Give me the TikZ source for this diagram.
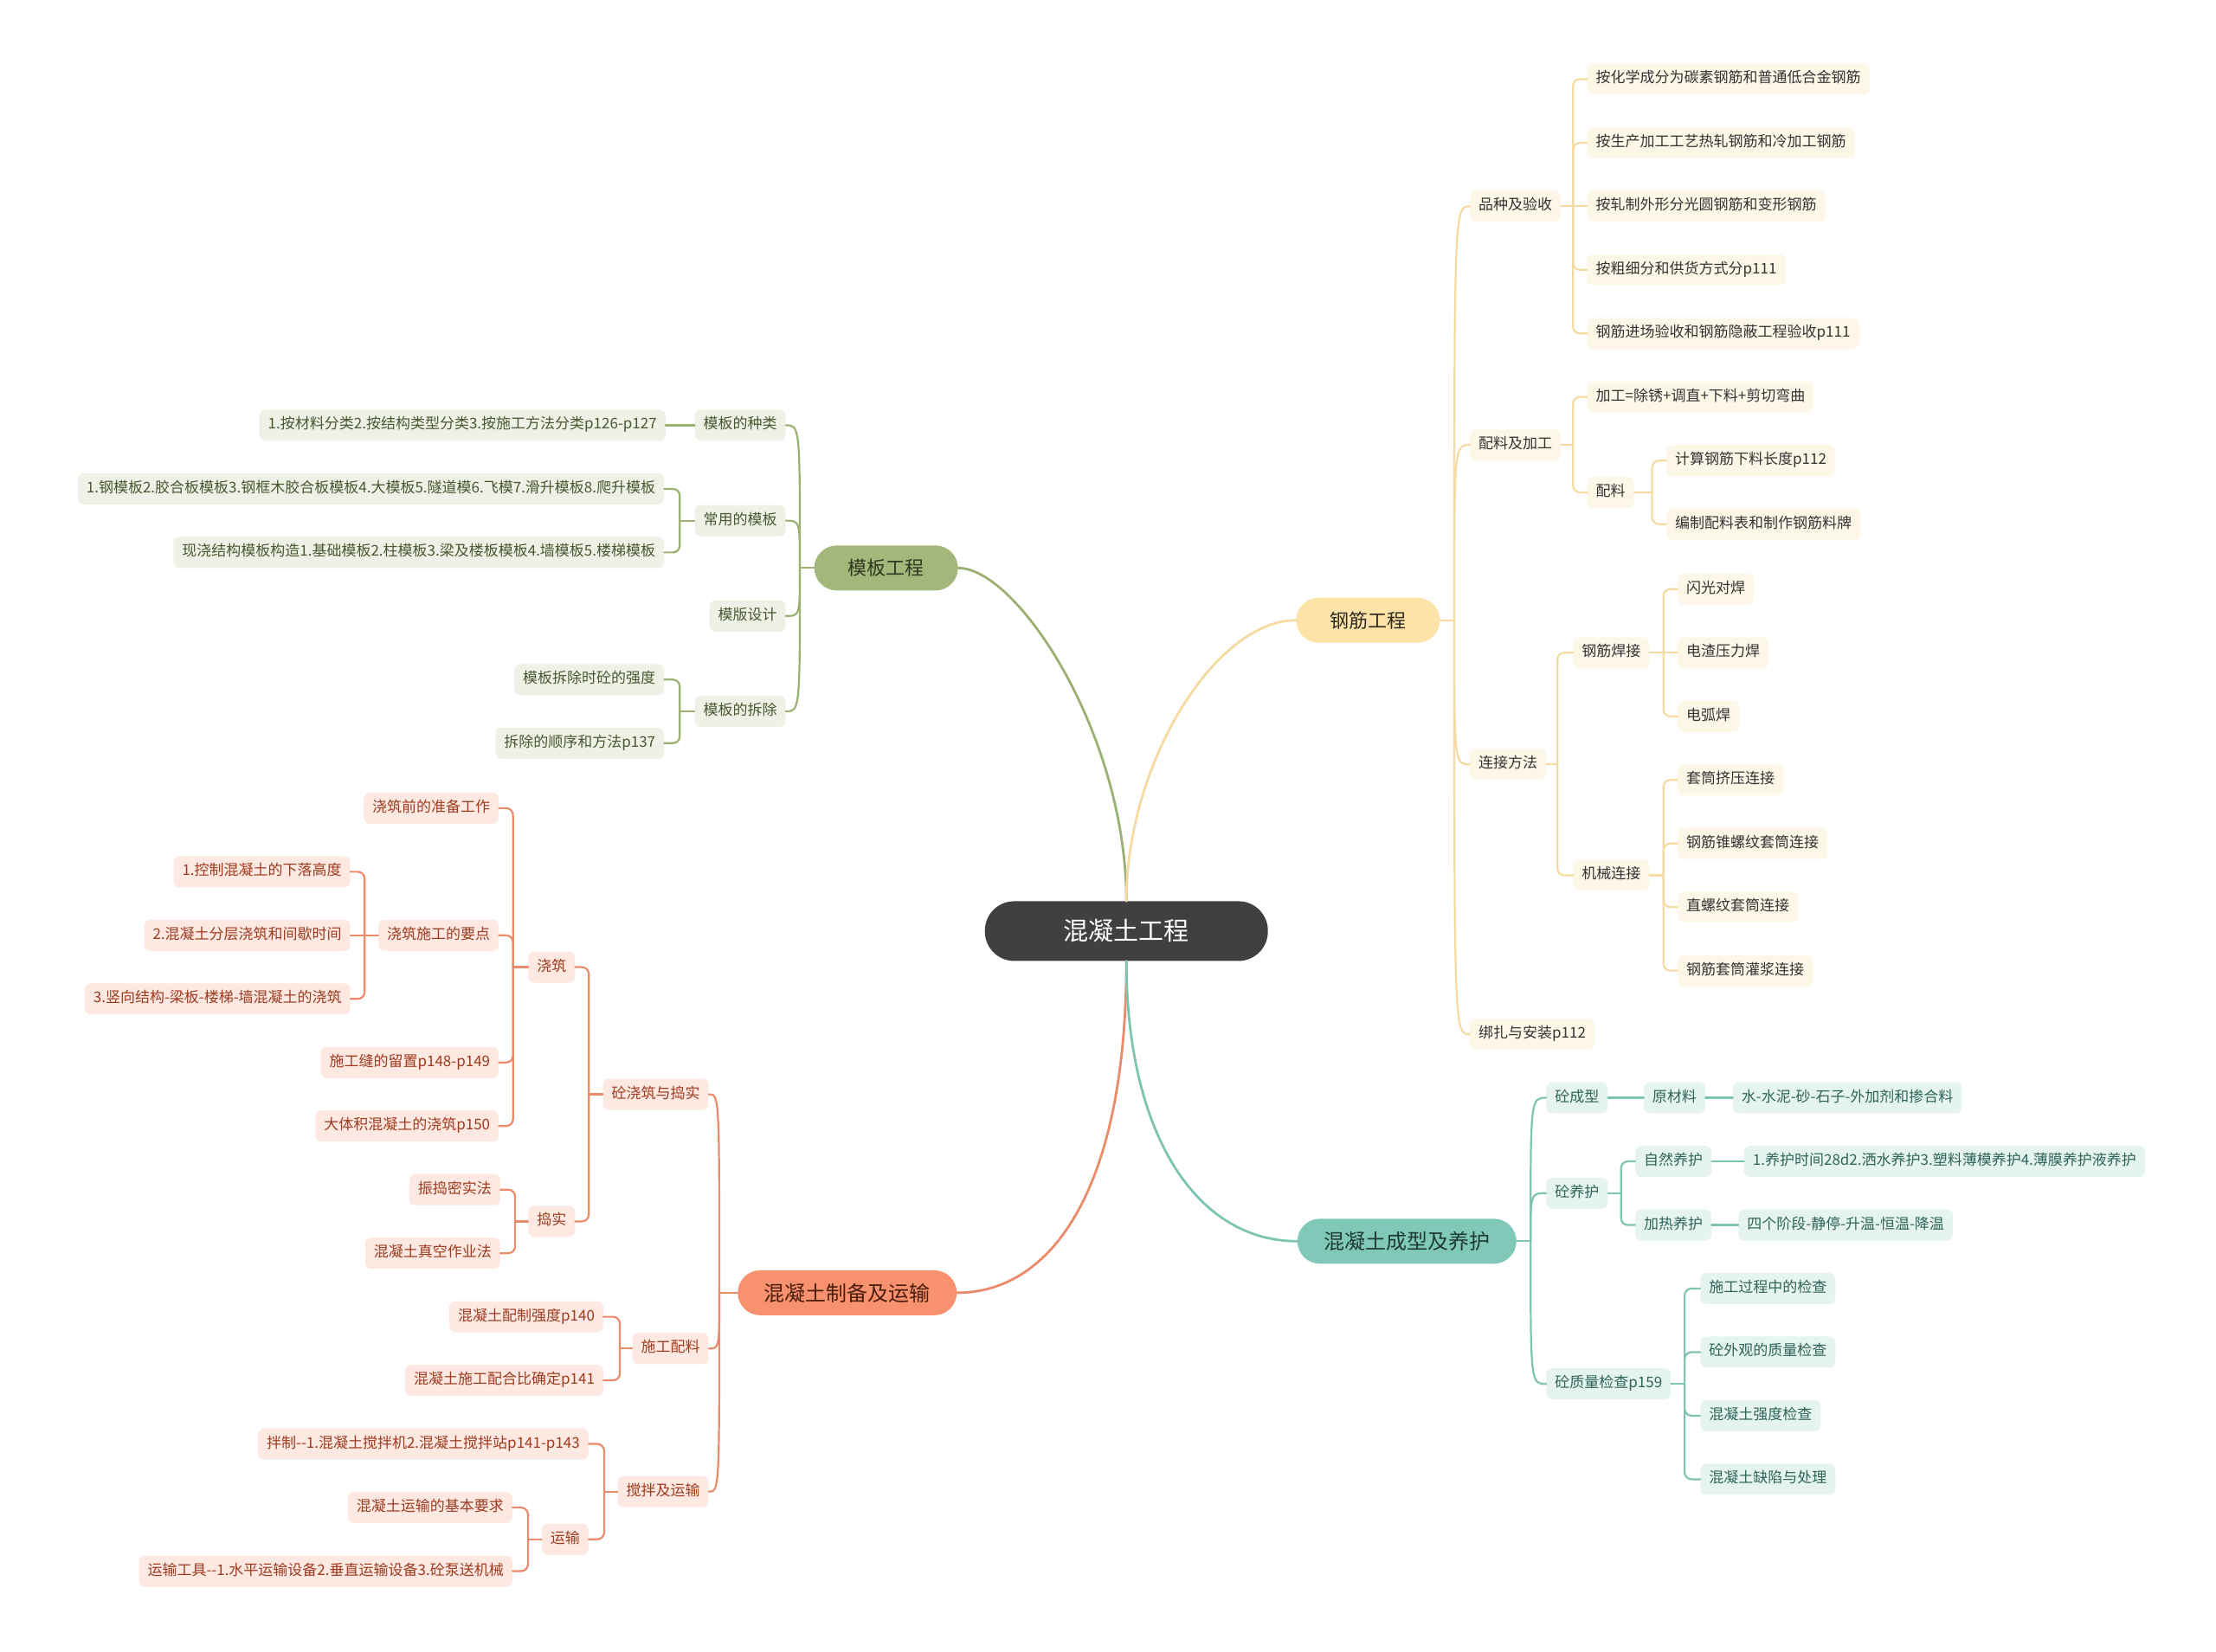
\documentclass[tikz,border=0pt]{standalone}
\usepackage{fontspec}
\setmainfont{Noto Sans CJK SC}
\usepackage{xcolor}
\definecolor{rootC}{HTML}{404040}
\definecolor{gMain}{HTML}{A3B77B}
\definecolor{gFill}{HTML}{EEF1E5}
\definecolor{gText}{HTML}{4B5632}
\definecolor{gDark}{HTML}{2F3820}
\definecolor{gLine}{HTML}{9DB073}
\definecolor{yMain}{HTML}{FDE3A7}
\definecolor{yFill}{HTML}{FDF7E8}
\definecolor{yText}{HTML}{333333}
\definecolor{yDark}{HTML}{2E2A22}
\definecolor{yLine}{HTML}{F5DAA2}
\definecolor{sMain}{HTML}{F8916E}
\definecolor{sFill}{HTML}{FDE9E2}
\definecolor{sText}{HTML}{9E3A1E}
\definecolor{sDark}{HTML}{4A1D0C}
\definecolor{sLine}{HTML}{EA8B6B}
\definecolor{tMain}{HTML}{80C9B8}
\definecolor{tFill}{HTML}{E5F4EF}
\definecolor{tText}{HTML}{2E6458}
\definecolor{tDark}{HTML}{1E3A33}
\definecolor{tLine}{HTML}{7EC4B2}
\tikzset{
  root/.style={fill=rootC, text=white, rounded corners=34pt, minimum height=69pt, minimum width=327pt, font=\fontsize{29}{34}\selectfont},
  mn/.style={rounded corners=26pt, minimum height=52pt, inner xsep=39pt, inner ysep=0pt, font=\fontsize{22}{26}\selectfont},
  mnL/.style={mn, inner xsep=0pt, minimum width=253pt, font=\fontsize{24}{28}\selectfont},
  Gmn/.style={mn, fill=gMain, text=gDark},
  Ymn/.style={mn, fill=yMain, text=yDark},
  Smn/.style={mnL, fill=sMain, text=sDark},
  Tmn/.style={mnL, fill=tMain, text=tDark},
  sb/.style={rounded corners=7pt, minimum height=36pt, inner xsep=10pt, inner ysep=0pt, text height=13pt, text depth=4pt, font=\fontsize{17}{20}\selectfont},
  Gl/.style={sb, fill=gFill, text=gText, anchor=east},
  Yr/.style={sb, fill=yFill, text=yText, anchor=west},
  Sl/.style={sb, fill=sFill, text=sText, anchor=east},
  Tr/.style={sb, fill=tFill, text=tText, anchor=west},
  Ge/.style={draw=gLine, line width=2.2pt, line cap=round},
  Ye/.style={draw=yLine, line width=2.2pt, line cap=round},
  Se/.style={draw=sLine, line width=2.2pt, line cap=round},
  Te/.style={draw=tLine, line width=2.2pt, line cap=round},
  br/.style={rounded corners=8pt}
}
\begin{document}
\begin{tikzpicture}[x=1.6327pt, y=-1.6327pt]
  \fill[white] (0,0) rectangle (1568,1169);
  \useasboundingbox (0,0) rectangle (1568,1169);

  \node[root] (rt) at (797,659) {混凝土工程};

  % 模板工程
  \node[Gmn] (mb) at (627,402) {模板工程};
  \node[Gl] (mb1) at (556,301) {模板的种类};
  \node[Gl] (mb11) at (471,301) {1.按材料分类2.按结构类型分类3.按施工方法分类p126-p127};
  \node[Gl] (mb2) at (556,368.5) {常用的模板};
  \node[Gl] (mb21) at (470,346) {1.钢模板2.胶合板模板3.钢框木胶合板模板4.大模板5.隧道模6.飞模7.滑升模板8.爬升模板};
  \node[Gl] (mb22) at (470,391) {现浇结构模板构造1.基础模板2.柱模板3.梁及楼板模板4.墙模板5.楼梯模板};
  \node[Gl] (mb3) at (556,436) {模版设计};
  \node[Gl] (mb4) at (556,503.5) {模板的拆除};
  \node[Gl] (mb41) at (470,481) {模板拆除时砼的强度};
  \node[Gl] (mb42) at (470,526) {拆除的顺序和方法p137};
  \coordinate (mbS) at (566,402);
  \coordinate (mb2S) at (481,368.5);
  \coordinate (mb4S) at (481,503.5);
  \draw[Ge, line width=2.8pt] (rt.north) .. controls (797,520) and (720,402) .. (mb.east);
  \draw[Ge] (mb.west) -- (mbS);
  \draw[Ge] (mbS) .. controls (mbS |- mb1.east) .. (mb1.east);
  \draw[Ge] (mbS) .. controls (mbS |- mb2.east) .. (mb2.east);
  \draw[Ge] (mbS) .. controls (mbS |- mb3.east) .. (mb3.east);
  \draw[Ge] (mbS) .. controls (mbS |- mb4.east) .. (mb4.east);
  \draw[Ge] (mb1.west) -- (mb11.east);
  \draw[Ge] (mb2.west) -- (mb2S);
  \draw[Ge,br] (mb2S) |- (mb21.east); \draw[Ge,br] (mb2S) |- (mb22.east);
  \draw[Ge] (mb4.west) -- (mb4S);
  \draw[Ge,br] (mb4S) |- (mb41.east); \draw[Ge,br] (mb4S) |- (mb42.east);

  % 钢筋工程
  \node[Ymn] (gj) at (968,439) {钢筋工程};
  \node[Yr] (pz) at (1040,146) {品种及验收};
  \node[Yr] (pz1) at (1123,56) {按化学成分为碳素钢筋和普通低合金钢筋};
  \node[Yr] (pz2) at (1123,101) {按生产加工工艺热轧钢筋和冷加工钢筋};
  \node[Yr] (pz3) at (1123,146) {按轧制外形分光圆钢筋和变形钢筋};
  \node[Yr] (pz4) at (1123,191) {按粗细分和供货方式分p111};
  \node[Yr] (pz5) at (1123,236) {钢筋进场验收和钢筋隐蔽工程验收p111};
  \node[Yr] (pl) at (1040,315) {配料及加工};
  \node[Yr] (jg) at (1123,281) {加工=除锈+调直+下料+剪切弯曲};
  \node[Yr] (pli) at (1123,348.5) {配料};
  \node[Yr] (pli1) at (1179,326) {计算钢筋下料长度p112};
  \node[Yr] (pli2) at (1179,371) {编制配料表和制作钢筋料牌};
  \node[Yr] (lj) at (1040,541) {连接方法};
  \node[Yr] (hj) at (1113,462) {钢筋焊接};
  \node[Yr] (hj1) at (1187,417) {闪光对焊};
  \node[Yr] (hj2) at (1187,462) {电渣压力焊};
  \node[Yr] (hj3) at (1187,507) {电弧焊};
  \node[Yr] (jx) at (1113,619.5) {机械连接};
  \node[Yr] (jx1) at (1187,552) {套筒挤压连接};
  \node[Yr] (jx2) at (1187,597) {钢筋锥螺纹套筒连接};
  \node[Yr] (jx3) at (1187,642) {直螺纹套筒连接};
  \node[Yr] (jx4) at (1187,687) {钢筋套筒灌浆连接};
  \node[Yr] (bz) at (1040,732) {绑扎与安装p112};
  \coordinate (gjS) at (1029,439);
  \coordinate (pzS) at (1113,146);
  \coordinate (plS) at (1113,315);
  \coordinate (pliS) at (1169,348.5);
  \coordinate (ljS) at (1102,541);
  \coordinate (hjS) at (1177,462);
  \coordinate (jxS) at (1177,619.5);
  \draw[Ye, line width=2.8pt] (rt.north) .. controls (797,540) and (860,439) .. (gj.west);
  \draw[Ye] (gj.east) -- (gjS);
  \draw[Ye] (gjS) .. controls (gjS |- pz.west) .. (pz.west);
  \draw[Ye] (gjS) .. controls (gjS |- pl.west) .. (pl.west);
  \draw[Ye] (gjS) .. controls (gjS |- lj.west) .. (lj.west);
  \draw[Ye] (gjS) .. controls (gjS |- bz.west) .. (bz.west);
  \draw[Ye] (pz.east) -- (pzS);
  \draw[Ye,br] (pzS) |- (pz1.west); \draw[Ye,br] (pzS) |- (pz2.west);
  \draw[Ye] (pzS) -- (pz3.west);
  \draw[Ye,br] (pzS) |- (pz4.west); \draw[Ye,br] (pzS) |- (pz5.west);
  \draw[Ye] (pl.east) -- (plS);
  \draw[Ye,br] (plS) |- (jg.west); \draw[Ye,br] (plS) |- (pli.west);
  \draw[Ye] (pli.east) -- (pliS);
  \draw[Ye,br] (pliS) |- (pli1.west); \draw[Ye,br] (pliS) |- (pli2.west);
  \draw[Ye] (lj.east) -- (ljS);
  \draw[Ye,br] (ljS) |- (hj.west); \draw[Ye,br] (ljS) |- (jx.west);
  \draw[Ye] (hj.east) -- (hjS);
  \draw[Ye,br] (hjS) |- (hj1.west); \draw[Ye] (hjS) -- (hj2.west);
  \draw[Ye,br] (hjS) |- (hj3.west);
  \draw[Ye] (jx.east) -- (jxS);
  \draw[Ye,br] (jxS) |- (jx1.west); \draw[Ye,br] (jxS) |- (jx2.west);
  \draw[Ye,br] (jxS) |- (jx3.west); \draw[Ye,br] (jxS) |- (jx4.west);

  % 混凝土制备及运输
  \node[Smn] (zb) at (599.5,915) {混凝土制备及运输};
  \node[Sl] (jz) at (501.5,774.5) {砼浇筑与捣实};
  \node[Sl] (jzz) at (407,684.5) {浇筑};
  \node[Sl] (jz1) at (353,572) {浇筑前的准备工作};
  \node[Sl] (jz2) at (353,662) {浇筑施工的要点};
  \node[Sl] (jz21) at (248,617) {1.控制混凝土的下落高度};
  \node[Sl] (jz22) at (248,662) {2.混凝土分层浇筑和间歇时间};
  \node[Sl] (jz23) at (248,707) {3.竖向结构-梁板-楼梯-墙混凝土的浇筑};
  \node[Sl] (jz3) at (353,752) {施工缝的留置p148-p149};
  \node[Sl] (jz4) at (353,797) {大体积混凝土的浇筑p150};
  \node[Sl] (dsh) at (407,864.5) {捣实};
  \node[Sl] (ds1) at (354,842) {振捣密实法};
  \node[Sl] (ds2) at (354,887) {混凝土真空作业法};
  \node[Sl] (sp) at (501.5,954.5) {施工配料};
  \node[Sl] (sp1) at (427,932) {混凝土配制强度p140};
  \node[Sl] (sp2) at (427,977) {混凝土施工配合比确定p141};
  \node[Sl] (jb) at (501.5,1055.75) {搅拌及运输};
  \node[Sl] (jb1) at (416.5,1022) {拌制-{}-1.混凝土搅拌机2.混凝土搅拌站p141-p143};
  \node[Sl] (ys) at (416.5,1089.5) {运输};
  \node[Sl] (ys1) at (362.6,1067) {混凝土运输的基本要求};
  \node[Sl] (ys2) at (362.6,1112) {运输工具-{}-1.水平运输设备2.垂直运输设备3.砼泵送机械};
  \coordinate (zbS) at (509,915);
  \coordinate (jzS) at (416.6,774.5);
  \coordinate (jzzS) at (363,684.5);
  \coordinate (jz2S) at (258,662);
  \coordinate (dshS) at (364.5,864.5);
  \coordinate (spS) at (438.6,954.5);
  \coordinate (jbS) at (427.5,1055.75);
  \coordinate (ysS) at (373.6,1089.5);
  \draw[Se, line width=2.8pt] (rt.south) .. controls (797,840) and (745,915) .. (zb.east);
  \draw[Se] (zb.west) -- (zbS);
  \draw[Se] (zbS) .. controls (zbS |- jz.east) .. (jz.east);
  \draw[Se] (zbS) .. controls (zbS |- sp.east) .. (sp.east);
  \draw[Se] (zbS) .. controls (zbS |- jb.east) .. (jb.east);
  \draw[Se] (jz.west) -- (jzS);
  \draw[Se,br] (jzS) |- (jzz.east); \draw[Se,br] (jzS) |- (dsh.east);
  \draw[Se] (jzz.west) -- (jzzS);
  \draw[Se,br] (jzzS) |- (jz1.east); \draw[Se,br] (jzzS) |- (jz2.east);
  \draw[Se,br] (jzzS) |- (jz3.east); \draw[Se,br] (jzzS) |- (jz4.east);
  \draw[Se] (jz2.west) -- (jz2S);
  \draw[Se,br] (jz2S) |- (jz21.east); \draw[Se] (jz2S) -- (jz22.east);
  \draw[Se,br] (jz2S) |- (jz23.east);
  \draw[Se] (dsh.west) -- (dshS);
  \draw[Se,br] (dshS) |- (ds1.east); \draw[Se,br] (dshS) |- (ds2.east);
  \draw[Se] (sp.west) -- (spS);
  \draw[Se,br] (spS) |- (sp1.east); \draw[Se,br] (spS) |- (sp2.east);
  \draw[Se] (jb.west) -- (jbS);
  \draw[Se,br] (jbS) |- (jb1.east); \draw[Se,br] (jbS) |- (ys.east);
  \draw[Se] (ys.west) -- (ysS);
  \draw[Se,br] (ysS) |- (ys1.east); \draw[Se,br] (ysS) |- (ys2.east);

  % 混凝土成型及养护
  \node[Tmn] (cx) at (995.5,878.5) {混凝土成型及养护};
  \node[Tr] (cx1) at (1094,777) {砼成型};
  \node[Tr] (ycl) at (1163,777) {原材料};
  \node[Tr] (ycl1) at (1226,777) {水-水泥-砂-石子-外加剂和掺合料};
  \node[Tr] (cx2) at (1094,844.5) {砼养护};
  \node[Tr] (zr) at (1157,822) {自然养护};
  \node[Tr] (zr1) at (1234,822) {1.养护时间28d2.洒水养护3.塑料薄模养护4.薄膜养护液养护};
  \node[Tr] (jr) at (1157,867) {加热养护};
  \node[Tr] (jr1) at (1230,867) {四个阶段-静停-升温-恒温-降温};
  \node[Tr] (cx3) at (1094,979.5) {砼质量检查p159};
  \node[Tr] (zl1) at (1203,912) {施工过程中的检查};
  \node[Tr] (zl2) at (1203,957) {砼外观的质量检查};
  \node[Tr] (zl3) at (1203,1002) {混凝土强度检查};
  \node[Tr] (zl4) at (1203,1047) {混凝土缺陷与处理};
  \coordinate (cxS) at (1083,878.5);
  \coordinate (cx2S) at (1147,844.5);
  \coordinate (cx3S) at (1192,979.5);
  \draw[Te, line width=2.8pt] (rt.south) .. controls (797,800) and (845,878.5) .. (cx.west);
  \draw[Te] (cx.east) -- (cxS);
  \draw[Te] (cxS) .. controls (cxS |- cx1.west) .. (cx1.west);
  \draw[Te] (cxS) .. controls (cxS |- cx2.west) .. (cx2.west);
  \draw[Te] (cxS) .. controls (cxS |- cx3.west) .. (cx3.west);
  \draw[Te] (cx1.east) -- (ycl.west); \draw[Te] (ycl.east) -- (ycl1.west);
  \draw[Te] (cx2.east) -- (cx2S);
  \draw[Te,br] (cx2S) |- (zr.west); \draw[Te,br] (cx2S) |- (jr.west);
  \draw[Te] (zr.east) -- (zr1.west); \draw[Te] (jr.east) -- (jr1.west);
  \draw[Te] (cx3.east) -- (cx3S);
  \draw[Te,br] (cx3S) |- (zl1.west); \draw[Te,br] (cx3S) |- (zl2.west);
  \draw[Te,br] (cx3S) |- (zl3.west); \draw[Te,br] (cx3S) |- (zl4.west);
\end{tikzpicture}
\end{document}
